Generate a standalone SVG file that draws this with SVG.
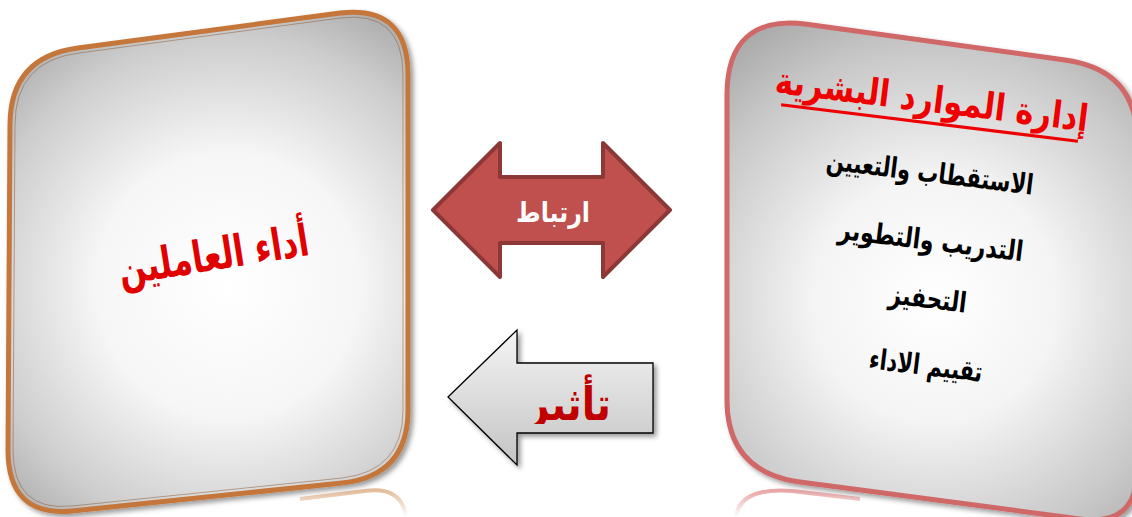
<svg xmlns="http://www.w3.org/2000/svg" width="1132" height="517" viewBox="0 0 1132 517">
<defs>
  <radialGradient id="gL" cx="228" cy="285" r="330" gradientUnits="userSpaceOnUse">
    <stop offset="0" stop-color="#ffffff"/>
    <stop offset="0.4" stop-color="#f6f6f6"/>
    <stop offset="0.75" stop-color="#cdcdcd"/>
    <stop offset="1" stop-color="#a2a2a2"/>
  </radialGradient>
  <radialGradient id="gR" cx="935" cy="300" r="350" gradientUnits="userSpaceOnUse">
    <stop offset="0" stop-color="#ffffff"/>
    <stop offset="0.35" stop-color="#f4f4f4"/>
    <stop offset="0.72" stop-color="#c8c8c8"/>
    <stop offset="1" stop-color="#9e9e9e"/>
  </radialGradient>
  <linearGradient id="gA" x1="0" y1="0" x2="0" y2="1">
    <stop offset="0" stop-color="#f4f4f4"/>
    <stop offset="1" stop-color="#c4c4c4"/>
  </linearGradient>
  <linearGradient id="fadeO" x1="0" y1="0" x2="0" y2="1">
    <stop offset="0" stop-color="#d9a070" stop-opacity="0.7"/>
    <stop offset="1" stop-color="#d9a070" stop-opacity="0"/>
  </linearGradient>
  <linearGradient id="fadeR" x1="0" y1="0" x2="0" y2="1">
    <stop offset="0" stop-color="#e08080" stop-opacity="0.7"/>
    <stop offset="1" stop-color="#e08080" stop-opacity="0"/>
  </linearGradient>
  <filter id="sh" x="-10%" y="-10%" width="125%" height="125%">
    <feDropShadow dx="3" dy="3" stdDeviation="2.5" flood-color="#000" flood-opacity="0.4"/>
  </filter>
  <clipPath id="clipT"><rect x="0" y="0" width="1132" height="424"/></clipPath>
  <style>
    .ar{font-family:"DejaVu Sans","Noto Sans",sans-serif;font-weight:bold;text-anchor:middle;direction:rtl}
    .item{font-size:28px;fill:#000}
  </style>
</defs>

<g id="reflections">
  <path d="M300,499 L365,491 Q402,486 406,517" fill="none" stroke="url(#fadeO)" stroke-width="4"/>
  <path d="M736,517 Q740,487 792,491 L860,499" fill="none" stroke="url(#fadeR)" stroke-width="4"/>
</g>

<g id="node-performance">
  <path d="M10,125 Q10,57 78,48 L340,13 Q408,5 408,75 L408,410 Q408,476 342,483 L72,511 Q8,517 8,450 Z" fill="url(#gL)" stroke="#c5763a" stroke-width="5" filter="url(#sh)"/>
  <path d="M15,125 Q15,61 79,53 L340,18 Q403,10 403,75 L403,410 Q403,471 342,478 L72,506 Q13,512 13,450 Z" fill="none" stroke="#8a5a35" stroke-width="1" opacity="0.5"/>
  <text class="ar" x="214" y="270" font-size="44" fill="#e00000" textLength="192" lengthAdjust="spacingAndGlyphs" transform="rotate(-9 214 258)">أداء العاملين</text>
</g>

<g id="node-hrm">
  <path d="M727,95 Q727,15 805,24 L1065,60 Q1137,70 1137,140 L1137,470 Q1137,527 1080,519 L800,482 Q727,472 727,400 Z" fill="url(#gR)" stroke="#d06767" stroke-width="5" filter="url(#sh)"/>
  <g transform="rotate(7 930 115)">
    <text class="ar" font-size="37" fill="#ee0000" transform="translate(930 112) scale(0.83 1)">إدارة الموارد البشرية</text>
    <line x1="781" y1="123" x2="1080" y2="123" stroke="#ee0000" stroke-width="3"/>
  </g>
  <text class="ar item" x="930" y="182" textLength="208" lengthAdjust="spacingAndGlyphs" transform="rotate(7 930 172)">الاستقطاب والتعيين</text>
  <text class="ar item" x="931" y="250" textLength="186" lengthAdjust="spacingAndGlyphs" transform="rotate(7 931 240)">التدريب والتطوير</text>
  <text class="ar item" x="928" y="308" textLength="78" lengthAdjust="spacingAndGlyphs" transform="rotate(7 928 298)">التحفيز</text>
  <text class="ar item" x="926" y="375" textLength="114" lengthAdjust="spacingAndGlyphs" transform="rotate(7 926 365)">تقييم الاداء</text>
</g>

<g id="connectors">
  <g id="arrow-link">
    <path d="M433,210 L500,143 L500,177 L603,177 L603,143 L670,210 L603,277 L603,243 L500,243 L500,277 Z" fill="#c0504d" stroke="#8c3836" stroke-width="4" stroke-linejoin="round"/>
    <text class="ar" x="553" y="222" font-size="28" fill="#ffffff" textLength="74" lengthAdjust="spacingAndGlyphs">ارتباط</text>
  </g>
  <g id="arrow-impact">
    <path d="M448,397 L517,330 L517,363 L653,363 L653,433 L517,433 L517,465 Z" fill="url(#gA)" stroke="#000" stroke-width="1.3" filter="url(#sh)"/>
    <text class="ar" x="569" y="420" font-size="46" fill="#c00000" textLength="84" lengthAdjust="spacingAndGlyphs" clip-path="url(#clipT)">تأثير</text>
  </g>
</g>
</svg>
